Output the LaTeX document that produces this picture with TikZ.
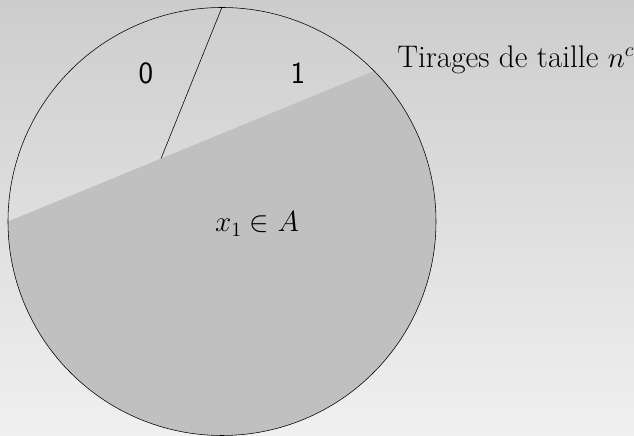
\documentclass[tikz,border=0pt]{standalone}
\usepackage{amsmath}
\usepackage{amssymb}
\usepackage{tikz}
\usetikzlibrary{calc}
\definecolor{tgtop}   {HTML}{CDCDCD}
\definecolor{tgbottom}{HTML}{F0F0F0}
\definecolor{tgshade} {HTML}{C0C0C0}
\definecolor{tgink}   {HTML}{000000}
\tikzset{
  tgdisc/.style={circle, draw=tgink, thin, minimum size=107mm, inner sep=0pt},
  tgdigit/.style={font=\sffamily\fontsize{22}{26}\selectfont, inner sep=0pt},
  tgmath/.style={font=\fontsize{21.5}{26}\selectfont, inner sep=0pt},
  tgtitle/.style={font=\fontsize{22.2}{26}\selectfont, inner sep=0pt},
}

\begin{document}
\begin{tikzpicture}[x=1mm,y=1mm]
  % background
  \shade[top color=tgtop, bottom color=tgbottom] (-55.5,-53.625) rectangle (103,55.375);
  \useasboundingbox (-55.5,-53.625) rectangle (103,55.375);

  % chord ends and the part below the chord
  \coordinate (chL) at (180:53.5);
  \coordinate (chR) at (44.7:53.5);
  \fill[tgshade] (chL) arc[start angle=180, end angle=404.7, radius=53.5] -- cycle;

  \node[tgdisc] (disc) at (0,0) {};
  \coordinate (split) at ($(chL)!0.418!(chR)$);
  \draw[tgink, thin] (disc.north) -- (split);

  \node[tgdigit] (zero) at (-19,37.1) {0};
  \node[tgdigit] (one)  at (19,37.1) {1};
  \node[tgmath, anchor=base] (inA) at (8.75,-2.6) {$x_1 \in A$};
  \node[tgtitle, anchor=base west] (title) at (43.75,38.6) {Tirages de taille $n^c$};
\end{tikzpicture}
\end{document}
